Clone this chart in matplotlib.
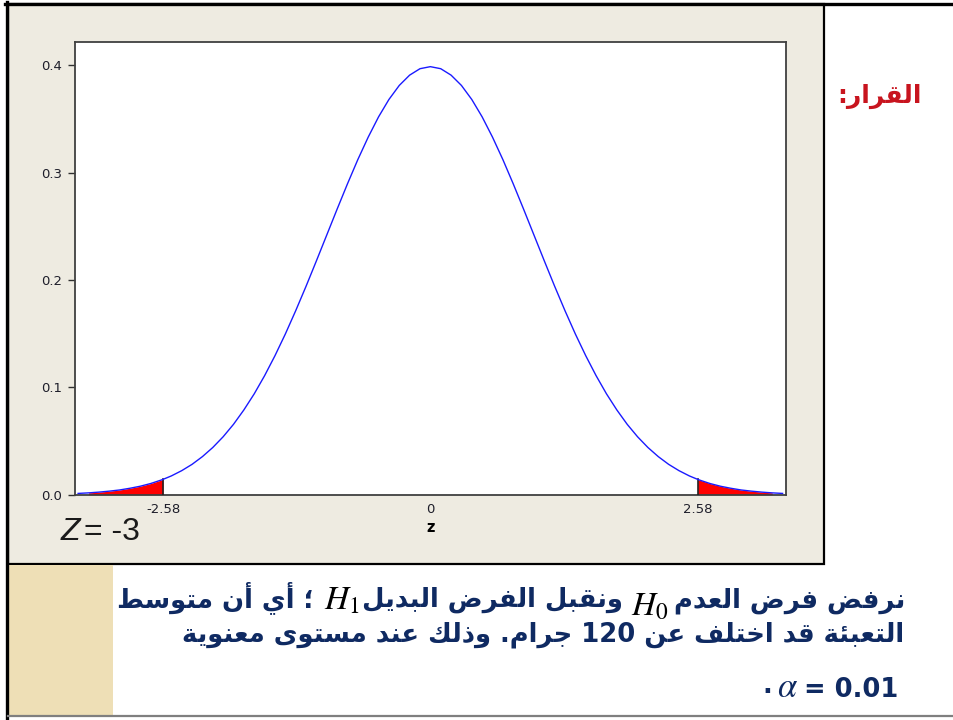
import re
import numpy as np
import matplotlib
matplotlib.use("Agg")
import matplotlib.pyplot as plt
from matplotlib.patches import Rectangle
from matplotlib.lines import Line2D

# values (standard normal density, Minitab style plot)
z_points = [-3.4, -3.3, -3.2, -3.1, -3.0, -2.9, -2.8, -2.7, -2.6, -2.58,
            -2.5, -2.4, -2.3, -2.2, -2.1, -2.0, -1.9, -1.8, -1.7, -1.6,
            -1.5, -1.4, -1.3, -1.2, -1.1, -1.0, -0.9, -0.8, -0.7, -0.6,
            -0.5, -0.4, -0.3, -0.2, -0.1, 0.0, 0.1, 0.2, 0.3, 0.4,
            0.5, 0.6, 0.7, 0.8, 0.9, 1.0, 1.1, 1.2, 1.3, 1.4,
            1.5, 1.6, 1.7, 1.8, 1.9, 2.0, 2.1, 2.2, 2.3, 2.4,
            2.5, 2.58, 2.6, 2.7, 2.8, 2.9, 3.0, 3.1, 3.2, 3.3, 3.4]
density = [0.0012, 0.0017, 0.0024, 0.0033, 0.0044, 0.0060, 0.0079, 0.0104, 0.0136, 0.0143,
           0.0175, 0.0224, 0.0283, 0.0355, 0.0440, 0.0540, 0.0656, 0.0790, 0.0940, 0.1109,
           0.1295, 0.1497, 0.1714, 0.1942, 0.2179, 0.2420, 0.2661, 0.2897, 0.3123, 0.3332,
           0.3521, 0.3683, 0.3814, 0.3910, 0.3970, 0.3989, 0.3970, 0.3910, 0.3814, 0.3683,
           0.3521, 0.3332, 0.3123, 0.2897, 0.2661, 0.2420, 0.2179, 0.1942, 0.1714, 0.1497,
           0.1295, 0.1109, 0.0940, 0.0790, 0.0656, 0.0540, 0.0440, 0.0355, 0.0283, 0.0224,
           0.0175, 0.0143, 0.0136, 0.0104, 0.0079, 0.0060, 0.0044, 0.0033, 0.0024, 0.0017, 0.0012]
critical = 2.58
shade_limit = 3.3
x_ticks = [-2.58, 0, 2.58]
x_tick_labels = ["-2.58", "0", "2.58"]
y_ticks = [0.0, 0.1, 0.2, 0.3, 0.4]
y_tick_labels = ["0.0", "0.1", "0.2", "0.3", "0.4"]

title_text = "القرار:"
line1 = ["نرفض فرض العدم", "$H_0$", "ونقبل الفرض البديل", "$H_1$", "؛ أي أن متوسط"]
line2 = "التعبئة قد اختلف عن 120 جرام. وذلك عند مستوى معنوية"
line3 = [".", r"$\alpha$", "= 0.01"]

NAVY = "#0f2a62"
W, H = 954, 720

# simple arabic shaping (presentation forms) + visual reordering
FORMS = {
    'ا': (0xFE8D, 2), 'أ': (0xFE83, 2), 'ب': (0xFE8F, 4), 'ة': (0xFE93, 2),
    'ت': (0xFE95, 4), 'ج': (0xFE9D, 4), 'خ': (0xFEA5, 4), 'د': (0xFEA9, 2),
    'ذ': (0xFEAB, 2), 'ر': (0xFEAD, 2), 'س': (0xFEB1, 4), 'ض': (0xFEBD, 4),
    'ط': (0xFEC1, 4), 'ع': (0xFEC9, 4), 'ف': (0xFED1, 4), 'ق': (0xFED5, 4),
    'ك': (0xFED9, 4), 'ل': (0xFEDD, 4), 'م': (0xFEE1, 4), 'ن': (0xFEE5, 4),
    'و': (0xFEED, 2), 'ى': (0xFEEF, 2), 'ي': (0xFEF1, 4), 'ئ': (0xFE89, 4),
}


def shape(s):
    out = []
    for i, ch in enumerate(s):
        if ch not in FORMS:
            out.append(ch)
            continue
        base, n = FORMS[ch]
        prev = s[i - 1] if i > 0 else ''
        nxt = s[i + 1] if i + 1 < len(s) else ''
        jp = prev in FORMS and FORMS[prev][1] == 4
        jn = n == 4 and nxt in FORMS
        if jp and jn:
            code = base + 3
        elif jp:
            code = base + 1
        elif jn:
            code = base + 2
        else:
            code = base
        out.append(chr(code))
    return ''.join(out)


def visual(s):
    parts = re.split(r'(\d+(?:\.\d+)?)', shape(s))
    parts = [p if re.fullmatch(r'\d+(?:\.\d+)?', p) else p[::-1] for p in parts]
    return ''.join(parts[::-1])


fig = plt.figure(figsize=(W / 100, H / 100), dpi=100, facecolor="white")

def fx(x):
    return x / W

def fy(y):
    return 1 - y / H

# slide frame / beige panel
fig.add_artist(Rectangle((fx(8), fy(564)), fx(824) - fx(8), fy(4) - fy(564),
                         transform=fig.transFigure, facecolor="#eeebe1",
                         edgecolor="black", lw=1.6, zorder=-2))
fig.add_artist(Rectangle((fx(8), fy(716)), fx(113) - fx(8), fy(565) - fy(716),
                         transform=fig.transFigure, facecolor="#eedfb6",
                         edgecolor="none", zorder=-2))
fig.add_artist(Line2D([fx(5), 1], [fy(3.5), fy(3.5)], transform=fig.transFigure,
                      color="black", lw=2.4))
fig.add_artist(Line2D([fx(7.5), fx(7.5)], [fy(2), 0], transform=fig.transFigure,
                      color="black", lw=2.4))
fig.add_artist(Line2D([fx(8), 1], [fy(716), fy(716)], transform=fig.transFigure,
                      color="#7f7f7f", lw=1.6))

ax = fig.add_axes([fx(75), fy(494.7), fx(785.7) - fx(75), fy(42.3) - fy(494.7)])
ax.set_facecolor("white")
z = np.array(z_points)
d = np.array(density)
left = (z <= -critical) & (z >= -shade_limit)
right = (z >= critical) & (z <= shade_limit)
ax.fill_between(z, 0, d, where=left, color="red", lw=0, zorder=2)
ax.fill_between(z, 0, d, where=right, color="red", lw=0, zorder=2)
for c in (-critical, critical):
    ax.plot([c, c], [0, density[z_points.index(c)]], color="#222222", lw=1.2, zorder=3)
ax.plot(z, d, color="#1a1aff", lw=1.0, zorder=4)

ax.set_xlim(-3.43, 3.43)
ax.set_ylim(0, 0.4216)
ax.set_xticks(x_ticks)
ax.set_xticklabels(x_tick_labels)
ax.set_yticks(y_ticks)
ax.set_yticklabels(y_tick_labels)
ax.tick_params(axis="x", length=0, pad=6, labelsize=9.5, labelcolor="#1e1e2a")
ax.tick_params(axis="y", length=5, width=1, pad=4, labelsize=9.5,
               labelcolor="#1e1e2a", color="#303030")
ax.set_xlabel("z", fontsize=10.5, fontweight="bold", labelpad=3)
for sp in ax.spines.values():
    sp.set_color("#404040")
    sp.set_linewidth(1.3)

renderer = fig.canvas.get_renderer()

# Z = -3
t = fig.text(fx(61), fy(540), "Z", fontsize=23, style="italic",
             family="Liberation Sans", color="#1a1a1a", va="baseline")
w = t.get_window_extent(renderer).width
fig.text(fx(61 + w + 4), fy(540), "= -3", fontsize=23, family="Liberation Sans",
         color="#1a1a1a", va="baseline")

# title
fig.text(fx(922), fy(103), visual(title_text), fontsize=18, fontweight="bold",
         family="DejaVu Sans", color="#c8141e", ha="right", va="baseline")

ar_kw = dict(fontsize=18.6, fontweight="bold", family="DejaVu Sans", color=NAVY)
math_kw = dict(fontsize=24, math_fontfamily="stix", color="black")


def put_rtl(pieces, x_right, y_base):
    x = x_right
    for text, kw, dy, gap in pieces:
        t = fig.text(fx(x), fy(y_base + dy), text, ha="right", va="baseline", **kw)
        x -= t.get_window_extent(renderer).width + gap


put_rtl([(visual(line1[0]), ar_kw, 0, 5),
         (line1[1], math_kw, 8, 8),
         (visual(line1[2]), ar_kw, 0, 3),
         (line1[3], math_kw, 3, 10),
         (visual(line1[4]), ar_kw, 0, 0)], 905, 607)

fig.text(fx(904), fy(641), visual(line2), ha="right", va="baseline", **ar_kw)

num_kw = dict(fontsize=18.5, fontweight="bold", family="DejaVu Sans", color=NAVY)
put_rtl([(line3[2], num_kw, 0, 6),
         (line3[1], dict(fontsize=25, math_fontfamily="stix", color=NAVY), 0, 5),
         (line3[0], num_kw, -4, 0)],
        898, 697)

fig.savefig("out.png", dpi=100, facecolor="white")
